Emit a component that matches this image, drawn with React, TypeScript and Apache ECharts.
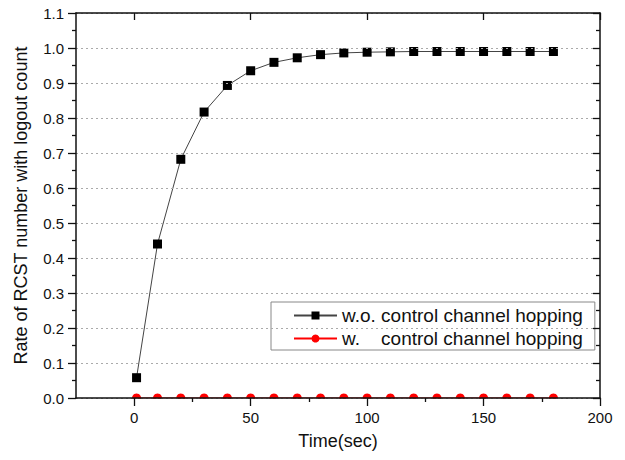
import React, { useEffect, useRef } from "react";
import * as echarts from "echarts";

const timeValues = [1, 10, 20, 30, 40, 50, 60, 70, 80, 90, 100, 110, 120, 130, 140, 150, 160, 170, 180];
const withoutHopping = [0.058, 0.44, 0.682, 0.817, 0.893, 0.935, 0.959, 0.972, 0.981, 0.986, 0.988, 0.989, 0.99, 0.99, 0.99, 0.99, 0.99, 0.99, 0.99];
const withHopping = [0, 0, 0, 0, 0, 0, 0, 0, 0, 0, 0, 0, 0, 0, 0, 0, 0, 0, 0];
const xMajorTicks = [0, 50, 100, 150, 200];
const xMinorTicks = [25, 75, 125, 175];
const seriesNames = ["w.o. control channel hopping", "w.    control channel hopping"];

const FONT = "'Liberation Sans', Arial, sans-serif";

export default function App() {
  const ref = useRef<HTMLDivElement>(null);
  useEffect(() => {
    if (!ref.current) return;
    const chart = echarts.init(ref.current, null, { renderer: "svg" });
    const axisLineStyle = { color: "#111", width: 1.5 };
    const tickStyle = { color: "#111", width: 1.3 };
    chart.setOption({
      animation: false,
      backgroundColor: "#fff",
      textStyle: { fontFamily: FONT },
      grid: { left: 76, right: 25, top: 13, bottom: 62, containLabel: false },
      legend: {
        orient: "vertical",
        left: 271,
        top: 302,
        data: seriesNames,
        itemWidth: 43,
        itemHeight: 10,
        itemGap: 0,
        padding: [2, 12, 0, 22],
        borderColor: "#888",
        borderWidth: 1,
        backgroundColor: "#fff",
        textStyle: { fontFamily: FONT, fontSize: 19, color: "#111", lineHeight: 23 },
      },
      xAxis: [
        {
          type: "value",
          min: -25,
          max: 200,
          position: "bottom",
          z: 10,
          axisLine: { show: true, onZero: false, lineStyle: axisLineStyle },
          axisTick: { show: true, customValues: xMinorTicks, length: 4, lineStyle: tickStyle },
          axisLabel: { customValues: xMajorTicks, margin: 12, fontSize: 15, color: "#111", fontFamily: FONT },
          splitLine: { show: false },
          name: "Time(sec)",
          nameLocation: "middle",
          nameGap: 34,
          nameTextStyle: { fontSize: 18, color: "#111", fontFamily: FONT },
        },
        {
          type: "value",
          min: -25,
          max: 200,
          position: "bottom",
          z: 10,
          axisLine: { show: false, onZero: false },
          axisTick: { show: true, customValues: xMajorTicks, length: 8, lineStyle: tickStyle },
          axisLabel: { show: false },
          splitLine: { show: false },
        },
        {
          type: "value",
          min: -25,
          max: 200,
          position: "top",
          z: 10,
          axisLine: { show: true, onZero: false, lineStyle: axisLineStyle },
          axisTick: { show: true, inside: true, customValues: xMajorTicks, length: 7, lineStyle: tickStyle },
          axisLabel: { show: false },
          splitLine: { show: false },
        },
      ],
      yAxis: [
        {
          type: "value",
          min: 0,
          max: 1.1,
          interval: 0.1,
          position: "left",
          z: 10,
          axisLine: { show: true, onZero: false, lineStyle: axisLineStyle },
          axisTick: { show: true, length: 8, lineStyle: tickStyle },
          minorTick: { show: true, splitNumber: 2, length: 4, lineStyle: tickStyle },
          axisLabel: {
            formatter: (v: number) => v.toFixed(1),
            margin: 12,
            fontSize: 15,
            color: "#111",
            fontFamily: FONT,
          },
          splitLine: { show: true, lineStyle: { type: [2, 3], color: "#aaa", width: 1 } },
          name: "Rate of RCST number with logout count",
          nameLocation: "middle",
          nameGap: 46,
          nameTextStyle: { fontSize: 18, color: "#111", fontFamily: FONT },
        },
        {
          type: "value",
          min: 0,
          max: 1.1,
          interval: 0.1,
          position: "right",
          z: 10,
          axisLine: { show: true, onZero: false, lineStyle: axisLineStyle },
          axisTick: { show: true, inside: true, length: 7, lineStyle: tickStyle },
          minorTick: { show: true, splitNumber: 2, length: 4, lineStyle: tickStyle },
          axisLabel: { show: false },
          splitLine: { show: false },
        },
      ],
      graphic: [
        {
          type: "rect",
          z: 5,
          shape: { x: 77, y: 398.8, width: 522, height: 6 },
          style: { fill: "#fff" },
          silent: true,
        },
      ],
      series: [
        {
          name: seriesNames[0],
          type: "line",
          xAxisIndex: 0,
          yAxisIndex: 0,
          data: timeValues.map((t, i) => [t, withoutHopping[i]]),
          symbol: "rect",
          symbolSize: 9,
          itemStyle: { color: "#000" },
          lineStyle: { color: "#444", width: 1 },
          z: 3,
        },
        {
          name: seriesNames[1],
          type: "line",
          xAxisIndex: 0,
          yAxisIndex: 0,
          data: timeValues.map((t, i) => [t, withHopping[i]]),
          symbol: "circle",
          symbolSize: 9,
          itemStyle: { color: "#ff0000" },
          lineStyle: { color: "#ff0000", width: 1 },
          z: 2,
        },
      ],
    });
    return () => chart.dispose();
  }, []);
  return <div ref={ref} style={{ position: "fixed", left: 0, top: 0, width: 625, height: 460 }} />;
}
